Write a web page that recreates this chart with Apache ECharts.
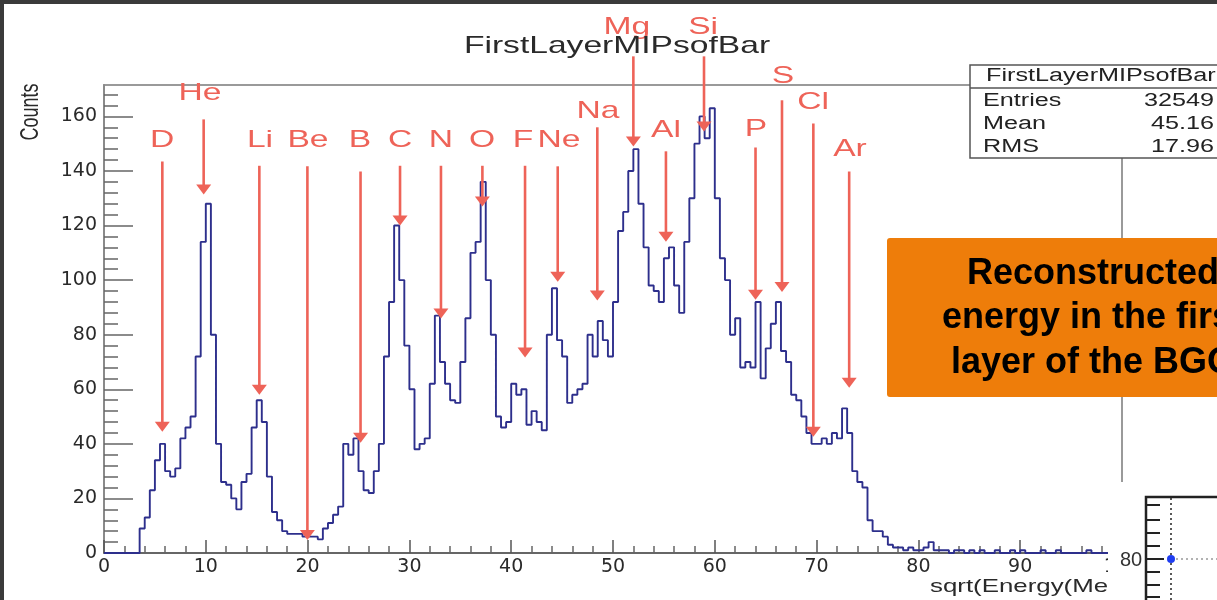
<!DOCTYPE html>
<html>
<head>
<meta charset="utf-8">
<script src="https://cdn.jsdelivr.net/npm/echarts@6/dist/echarts.min.js"></script>
<style>
html,body{margin:0;padding:0;background:#fff;}
#chart{width:1217px;height:600px;}
</style>
</head>
<body>
<div id="chart"></div>
<script>
// ---------------- data ----------------
const binStart = 3.5;      // left edge of first filled bin
const binWidth = 0.5;      // bin width in sqrt(Energy(MeV))
const counts = [
  9, 13, 23, 34, 40, 30, 28, 31, 42, 46,          // 3.5 - 8.0
  50, 72, 114, 128, 80, 40, 26, 25, 20, 16,       // 8.5 - 13.0
  26, 29, 46, 56, 48, 28, 15, 12, 8, 7,           // 13.5 - 18.0
  7, 7, 6, 6, 6, 5, 9, 11, 14, 17,                // 18.5 - 23.0
  40, 36, 42, 30, 23, 22, 30, 40, 72, 92,         // 23.5 - 28.0
  120, 100, 76, 60, 38, 40, 42, 62, 87, 70,       // 28.5 - 33.0
  62, 56, 55, 70, 86, 110, 114, 136, 100, 80,     // 33.5 - 38.0
  50, 46, 48, 62, 58, 60, 47, 52, 48, 45,         // 38.5 - 43.0
  80, 97, 78, 72, 55, 58, 60, 62, 80, 72,         // 43.5 - 48.0
  85, 78, 72, 92, 118, 125, 140, 148, 128, 112,   // 48.5 - 53.0
  98, 96, 92, 108, 112, 98, 88, 114, 130, 150,    // 53.5 - 58.0
  160, 152, 163, 130, 108, 100, 80, 86, 68, 70,   // 58.5 - 63.0
  68, 92, 64, 75, 84, 92, 74, 70, 58, 56,         // 63.5 - 68.0
  50, 44, 40, 40, 42, 40, 44, 42, 53, 44,         // 68.5 - 73.0
  30, 26, 24, 12, 8, 8, 6, 3, 2, 2,               // 73.5 - 78.0
  1, 2, 1, 1, 2, 4, 1, 1, 1, 0,                   // 78.5 - 83.0
  1, 1, 0, 1, 0, 1, 0, 0, 1, 0,                   // 83.5 - 88.0
  0, 1, 0, 1, 0, 0, 0, 1, 0, 0,                   // 88.5 - 93.0
  1, 0, 0, 0, 0, 0, 1, 0, 0, 0, 0, 0, 0           // 93.5 - 99.5
];

const yMajorTicks = [0, 20, 40, 60, 80, 100, 120, 140, 160];
const yMinorTicks = [4, 8, 12, 16, 24, 28, 32, 36, 44, 48, 52, 56, 64, 68, 72, 76,
  84, 88, 92, 96, 104, 108, 112, 116, 124, 128, 132, 136, 144, 148, 152, 156, 164, 168];

// element annotations (data coordinates)
const elements  = ['D', 'He', 'Li', 'Be', 'B', 'C', 'N', 'O', 'F', 'Ne', 'Na', 'Mg', 'Al', 'Si', 'P', 'S', 'Cl', 'Ar'];
const arrowX    = [5.73, 9.79, 15.26, 19.98, 25.2, 29.08, 33.1, 37.17, 41.36, 44.57, 48.46, 52.0, 55.2, 58.94, 64.0, 66.6, 69.68, 73.2];
const arrowTopY = [143.5, 158.9, 141.9, 141.7, 139.8, 141.9, 141.9, 141.9, 141.9, 141.7, 156.0, 182.0, 147.2, 182.0, 148.6, 165.9, 157.4, 139.8];
const arrowTipY = [44.4, 131.4, 58.0, 4.8, 40.4, 120.0, 85.9, 127.0, 71.6, 99.4, 92.5, 149.0, 114.1, 154.5, 92.8, 95.6, 42.6, 60.6];
const labelX    = [5.70, 9.43, 15.32, 20.04, 25.15, 29.08, 33.1, 37.13, 41.16, 44.7, 48.53, 51.37, 55.2, 58.85, 64.05, 66.7, 69.65, 73.28];
const labelY    = [151.2, 168.6, 151.2, 151.2, 151.2, 151.2, 151.2, 151.2, 151.2, 151.2, 161.8, 192.5, 155.0, 192.5, 155.2, 174.5, 165.0, 147.9];

const histTitle = 'FirstLayerMIPsofBar';
const statsLabels = ['Entries', 'Mean', 'RMS'];
const statsValues = ['32549', '45.16', '17.96'];
const xTitle = 'sqrt(Energy(MeV))';
const yTitle = 'Counts';
const noteLines = ['Reconstructed', 'energy in the first', 'layer of the BGO'];

// ---------------- build ----------------
const histData = [[0, 0], [binStart, 0]];
counts.forEach((c, i) => histData.push([binStart + i * binWidth, c]));
histData.push([binStart + counts.length * binWidth, 0]);

const annData = elements.map((e, i) => [arrowX[i], arrowTopY[i], arrowTipY[i], labelX[i], labelY[i], i]);

const RED = '#EE6358';
const TXT = '#2a2a2a';

function renderArrow(params, api) {
  const x = api.value(0), top = api.value(1), tip = api.value(2);
  const lx = api.value(3), ly = api.value(4), idx = api.value(5);
  const pT = api.coord([x, top]);
  const pTip = api.coord([x, tip]);
  const pL = api.coord([lx, ly]);
  const ah = 10, aw = 7.5;
  return {
    type: 'group',
    children: [
      { type: 'line', shape: { x1: pT[0], y1: pT[1], x2: pTip[0], y2: pTip[1] - ah + 1 },
        style: { stroke: RED, lineWidth: 2.6 } },
      { type: 'polygon', shape: { points: [[pTip[0] - aw, pTip[1] - ah], [pTip[0] + aw, pTip[1] - ah], [pTip[0], pTip[1]]] },
        style: { fill: RED } },
      { type: 'text', x: pL[0], y: pL[1], scaleX: 1.4,
        style: { text: elements[idx], fill: RED, font: '24px "Liberation Sans", Arial, sans-serif', align: 'center', verticalAlign: 'middle' } }
    ]
  };
}

const graphics = [
  // outer dark frame of the slide
  { type: 'rect', z: 200, shape: { x: 0, y: 0, width: 1217, height: 4 }, style: { fill: '#3a3a3a' } },
  { type: 'rect', z: 200, shape: { x: 0, y: 0, width: 4, height: 600 }, style: { fill: '#3a3a3a' } },
  // title
  { type: 'text', z: 20, x: 617, y: 46, scaleX: 1.4,
    style: { text: histTitle, font: '24px "Liberation Sans", Arial, sans-serif', fill: TXT, align: 'center', verticalAlign: 'middle' } },
  // y title
  { type: 'text', z: 20, x: 31, y: 112, rotation: Math.PI / 2, scaleY: 1.4,
    style: { text: yTitle, font: '18px "Liberation Sans", Arial, sans-serif', fill: TXT, align: 'center', verticalAlign: 'middle' } },
  // x title
  { type: 'text', z: 20, x: 930, y: 587, scaleX: 1.36,
    style: { text: xTitle, font: '19px "Liberation Sans", Arial, sans-serif', fill: TXT, align: 'left', verticalAlign: 'middle' } },
  // stats box
  { type: 'rect', z: 60, shape: { x: 970, y: 65, width: 260, height: 93 }, style: { fill: '#fff', stroke: '#555', lineWidth: 1.5 } },
  { type: 'line', z: 61, shape: { x1: 970, y1: 88, x2: 1217, y2: 88 }, style: { stroke: '#555', lineWidth: 1.5 } },
  { type: 'text', z: 62, x: 986, y: 76, scaleX: 1.4,
    style: { text: histTitle, font: '18px "Liberation Sans", Arial, sans-serif', fill: '#222', align: 'left', verticalAlign: 'middle' } }
];
statsLabels.forEach((l, i) => {
  const yy = 101 + i * 23;
  graphics.push({ type: 'text', z: 62, x: 983, y: yy, scaleX: 1.4,
    style: { text: l, font: '18px "Liberation Sans", Arial, sans-serif', fill: '#222', align: 'left', verticalAlign: 'middle' } });
  graphics.push({ type: 'text', z: 62, x: 1214, y: yy, scaleX: 1.4,
    style: { text: statsValues[i], font: '18px "Liberation Sans", Arial, sans-serif', fill: '#222', align: 'right', verticalAlign: 'middle' } });
});
// orange note box
graphics.push({ type: 'rect', z: 70, shape: { x: 887, y: 238, width: 340, height: 159, r: 3 }, style: { fill: '#EE7D0A' } });
noteLines.forEach((t, i) => {
  graphics.push({ type: 'text', z: 71, x: 1093, y: 274 + i * 44.5,
    style: { text: t, font: 'bold 36px "Liberation Sans", Arial, sans-serif', fill: '#000', align: 'center', verticalAlign: 'middle' } });
});
// overlapping inset plot at bottom right
graphics.push({ type: 'rect', z: 90, shape: { x: 1108, y: 482, width: 109, height: 118 }, style: { fill: '#fff' } });
graphics.push({ type: 'polyline', z: 91, shape: { points: [[1146, 600], [1146, 497], [1217, 497]] }, style: { stroke: '#222', lineWidth: 2.5, fill: null } });
[505, 520, 533, 546, 572, 585, 597].forEach(yy => {
  graphics.push({ type: 'line', z: 91, shape: { x1: 1146, y1: yy, x2: 1160, y2: yy }, style: { stroke: '#222', lineWidth: 2 } });
});
graphics.push({ type: 'line', z: 91, shape: { x1: 1146, y1: 559, x2: 1164, y2: 559 }, style: { stroke: '#222', lineWidth: 2 } });
graphics.push({ type: 'line', z: 91, shape: { x1: 1171, y1: 498, x2: 1171, y2: 600 }, style: { stroke: '#222', lineWidth: 1.5, lineDash: [2, 3] } });
graphics.push({ type: 'line', z: 91, shape: { x1: 1171, y1: 559, x2: 1217, y2: 559 }, style: { stroke: '#999', lineWidth: 1.5, lineDash: [2, 3] } });
graphics.push({ type: 'circle', z: 92, shape: { cx: 1171, cy: 559, r: 4 }, style: { fill: '#1f3df0' } });
graphics.push({ type: 'text', z: 92, x: 1131, y: 560,
  style: { text: '80', font: '20px "Liberation Sans Narrow", "Liberation Sans", Arial, sans-serif', fill: '#333', align: 'center', verticalAlign: 'middle' } });

const labelFont = { color: TXT, fontFamily: 'DejaVu Sans', fontSize: 19 };

const option = {
  animation: false,
  backgroundColor: '#fff',
  grid: { left: 104, top: 85, width: 1018, height: 468, show: true, borderColor: '#7a7a7a', borderWidth: 1.5, backgroundColor: 'transparent' },
  xAxis: {
    type: 'value', min: 0, max: 100, interval: 10,
    axisLine: { lineStyle: { color: '#555', width: 1.5 } },
    axisTick: { inside: true, length: 13, lineStyle: { color: '#555', width: 1.5 } },
    minorTick: { show: true, splitNumber: 5, length: 7, lineStyle: { color: '#666', width: 1.5 } },
    axisLabel: Object.assign({ margin: 5 }, labelFont),
    splitLine: { show: false }
  },
  yAxis: [
    {
      type: 'value', min: 0, max: 171.5, position: 'left',
      axisLine: { show: true, lineStyle: { color: '#8a8a8a', width: 2 } },
      axisTick: { inside: true, length: 29, customValues: yMajorTicks, lineStyle: { color: '#666', width: 1.5 } },
      axisLabel: Object.assign({ margin: 7, customValues: yMajorTicks }, labelFont),
      splitLine: { show: false }
    },
    {
      type: 'value', min: 0, max: 171.5, position: 'left',
      axisLine: { show: false },
      axisTick: { inside: true, length: 14, customValues: yMinorTicks, lineStyle: { color: '#666', width: 1.5 } },
      axisLabel: { show: false },
      splitLine: { show: false }
    }
  ],
  series: [
    {
      type: 'line', step: 'end', data: histData, symbol: 'none', yAxisIndex: 0,
      lineStyle: { color: '#2d2f8c', width: 1.9 }, z: 3
    },
    {
      type: 'custom', renderItem: renderArrow, data: annData, clip: false, z: 5,
      encode: { x: [0, 3], y: [1, 2, 4] }, silent: true
    }
  ],
  graphic: graphics
};

const chart = echarts.init(document.getElementById('chart'), null, { renderer: 'canvas' });
chart.setOption(option);
</script>
</body>
</html>
